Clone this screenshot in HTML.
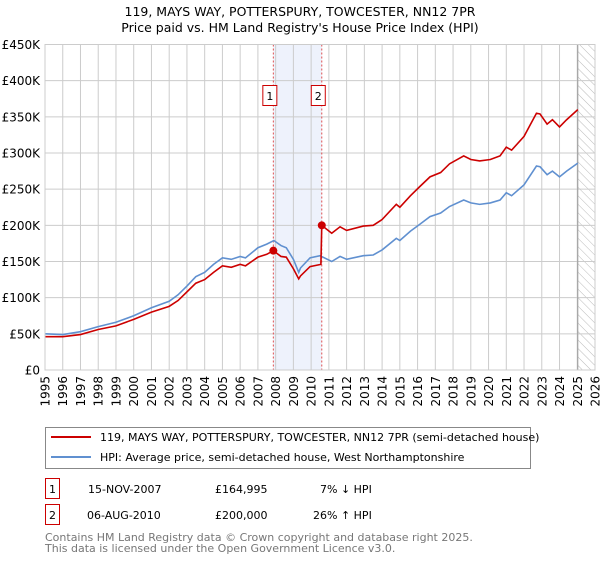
<!DOCTYPE html>
<html><head><meta charset="utf-8"><style>
body{margin:0;background:#fff;font-family:"Liberation Sans","DejaVu Sans",sans-serif;}
svg text{font-family:"DejaVu Sans","Liberation Sans",sans-serif;}
</style></head><body>
<svg id="chart" width="600" height="560" xmlns="http://www.w3.org/2000/svg">
<defs><pattern id="hatch" patternUnits="userSpaceOnUse" width="6" height="6" patternTransform="rotate(-45)"><line x1="0" y1="0" x2="0" y2="6" stroke="#bbb" stroke-width="1"/></pattern></defs>
<text x="300" y="16" text-anchor="middle" font-size="12.5">119, MAYS WAY, POTTERSPURY, TOWCESTER, NN12 7PR</text>
<text x="300" y="32" text-anchor="middle" font-size="12.5">Price paid vs. HM Land Registry's House Price Index (HPI)</text>
<g id="plot"></g>
<rect x="45.5" y="427.5" width="485" height="41" fill="#fff" stroke="#888"/>
<line x1="51" y1="437" x2="91" y2="437" stroke="#cc0000" stroke-width="2"/>
<text x="100" y="441" font-size="11">119, MAYS WAY, POTTERSPURY, TOWCESTER, NN12 7PR (semi-detached house)</text>
<line x1="51" y1="457" x2="91" y2="457" stroke="#6090d0" stroke-width="2"/>
<text x="100" y="461" font-size="11">HPI: Average price, semi-detached house, West Northamptonshire</text>
<rect x="45.5" y="478.5" width="14" height="20" fill="#fff" stroke="#cc0000"/>
<text x="52.5" y="493" text-anchor="middle" font-size="11">1</text>
<text x="88" y="493" font-size="11">15-NOV-2007</text>
<text x="215" y="493" font-size="11">£164,995</text>
<text x="320" y="493" font-size="11">7% ↓ HPI</text>
<rect x="45.5" y="504.5" width="14" height="20" fill="#fff" stroke="#cc0000"/>
<text x="52.5" y="519" text-anchor="middle" font-size="11">2</text>
<text x="87" y="519" font-size="11">06-AUG-2010</text>
<text x="215" y="519" font-size="11">£200,000</text>
<text x="313" y="519" font-size="11">26% ↑ HPI</text>
<text x="45" y="541" font-size="11" fill="#777">Contains HM Land Registry data © Crown copyright and database right 2025.</text>
<text x="45" y="552" font-size="11" fill="#777">This data is licensed under the Open Government Licence v3.0.</text>
</svg>
<script>
const yTicks=[0,50,100,150,200,250,300,350,400,450];
const yTickLabels=["£0","£50K","£100K","£150K","£200K","£250K","£300K","£350K","£400K","£450K"];
const years=[1995,1996,1997,1998,1999,2000,2001,2002,2003,2004,2005,2006,2007,2008,2009,2010,2011,2012,2013,2014,2015,2016,2017,2018,2019,2020,2021,2022,2023,2024,2025,2026];
const hpiDates=[1995,1996,1997,1998,1999,2000,2001,2002,2002.5,2003,2003.5,2004,2004.5,2005,2005.5,2006,2006.3,2007,2007.5,2007.9,2008.3,2008.6,2009,2009.3,2009.4,2009.94,2010.5,2011.16,2011.63,2012,2012.94,2013.5,2014,2014.8,2015,2015.6,2016.1,2016.7,2017.3,2017.8,2018.6,2019,2019.5,2020.1,2020.65,2021,2021.3,2022,2022.7,2022.9,2023.3,2023.6,2024,2024.4,2025.03];
const hpiValues=[50,49,53,60,66,75,86,95,104,116,129,135,146,155,153,157,155,169,174,179,172,169,153,135,141,155,158,150,157,153,158,159,166,182,179,192,201,212,217,226,235,231,229,231,235,245,241,256,282,281,270,275,267,275,286];
const priceDates=[1995,1996,1997,1998,1999,2000,2001,2002,2002.5,2003,2003.5,2004,2004.5,2005,2005.5,2006,2006.3,2007,2007.5,2007.87,2008.3,2008.6,2009,2009.3,2009.4,2009.94,2010.55,2010.6,2011.16,2011.63,2012,2012.94,2013.5,2014,2014.8,2015,2015.6,2016.1,2016.7,2017.3,2017.8,2018.6,2019,2019.5,2020.1,2020.65,2021,2021.3,2022,2022.7,2022.9,2023.3,2023.6,2024,2024.4,2025.03];
const priceValues=[46,46,49,56,61,70,80,88,96,108,120,125,135,144,142,146,144,156,160,165,157,156,140,126,130,143,146,200,189,198,193,199,200,208,229,225,241,253,267,273,285,296,291,289,291,296,308,304,323,355,354,340,346,336,346,360];
const saleDates=[2007.87,2010.6];
const salePrices=[164.995,200];
const saleLabels=["1","2"];
const X0=45,X1=595,Y0=370,Y1=44.5;
const xs=y=>X0+(y-1995)*(X1-X0)/31;
const ys=v=>Y0-v*(Y0-Y1)/450;
const NS="http://www.w3.org/2000/svg";
const g=document.getElementById('plot');
function el(t,a){const e=document.createElementNS(NS,t);for(const k in a)e.setAttribute(k,a[k]);g.appendChild(e);return e;}
// shaded period
let sh=el('rect',{x:xs(saleDates[0]),y:Y1,width:xs(saleDates[1])-xs(saleDates[0]),height:Y0-Y1,fill:'#eef2fc'});


let ht=el('rect',{x:xs(2025.03),y:Y1,width:X1-xs(2025.03),height:Y0-Y1,fill:'url(#hatch)'});


yTicks.forEach((v,i)=>{
 let l=el('line',{x1:X0,x2:X1,y1:ys(v),y2:ys(v),stroke:'#ccc','stroke-width':1});
 
 
 let t=el('text',{x:40,y:ys(v)+4.5,'text-anchor':'end','font-size':12});
 t.textContent=yTickLabels[i];
 
 
});
years.forEach(yr=>{
 let l=el('line',{x1:xs(yr),x2:xs(yr),y1:Y1,y2:Y0,stroke:'#ccc','stroke-width':1});
 
 
 let t=el('text',{x:0,y:0,'text-anchor':'end','font-size':12,transform:`translate(${xs(yr)+4.5},${Y0+6}) rotate(-90)`});
 t.textContent=yr;
 
 
});
let fl=el('line',{x1:xs(2025.03),x2:xs(2025.03),y1:Y1,y2:Y0,stroke:'#999','stroke-width':1});


saleDates.forEach((d,i)=>{
 let l=el('line',{x1:xs(d),x2:xs(d),y1:Y1,y2:Y0,stroke:'#e05050','stroke-width':1,'stroke-dasharray':'2,2'});
 
 
});
let hp=el('polyline',{points:hpiDates.map((d,i)=>xs(d)+','+ys(hpiValues[i])).join(' '),fill:'none',stroke:'#6090d0','stroke-width':1.6});


let pr=el('polyline',{points:priceDates.map((d,i)=>xs(d)+','+ys(priceValues[i])).join(' '),fill:'none',stroke:'#cc0000','stroke-width':1.6});


saleDates.forEach((d,i)=>{
 let c=el('circle',{cx:xs(d),cy:ys(salePrices[i]),r:4,fill:'#cc0000'});
 
 
 let b=el('rect',{x:xs(d)-10.5,y:85.5,width:14,height:20,fill:'#fff',stroke:'#cc0000'});
 
 
 let t=el('text',{x:xs(d)-3.5,y:100,'text-anchor':'middle','font-size':11});
 t.textContent=saleLabels[i];
 
 
});
let fr=el('rect',{x:X0,y:Y1,width:X1-X0,height:Y0-Y1,fill:'none',stroke:'#ccc'});


</script>
</body></html>
